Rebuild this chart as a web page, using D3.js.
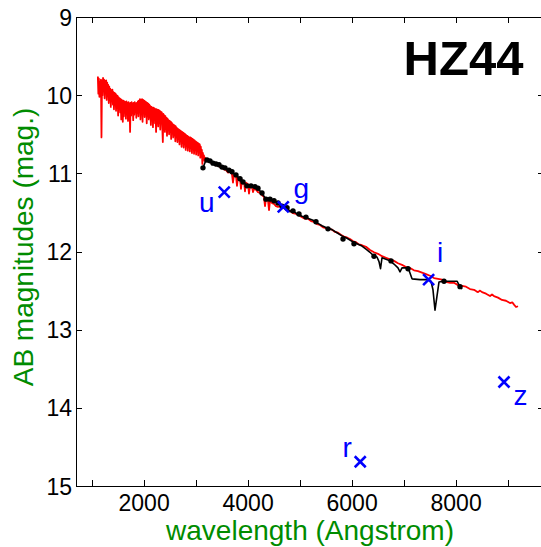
<!DOCTYPE html>
<html><head><meta charset="utf-8">
<script src="https://cdn.jsdelivr.net/npm/d3@7"></script>
<style>
body{margin:0;background:#fff}
svg{display:block}
text{font-family:"Liberation Sans",Arial,Helvetica,sans-serif}
</style>
</head><body>
<svg id="chart" width="541" height="547"></svg>
<script>
// ---- data ----
const title = "HZ44";
const xLabel = "wavelength (Angstrom)";
const yLabel = "AB magnitudes (mag.)";
const xTicks = [1000,2000,3000,4000,5000,6000,7000,8000,9000];
const xTickLabels = [2000,4000,6000,8000];
const yTicks = [9,10,11,12,13,14,15];

// model / reference spectrum (red): [wavelength, AB mag]
const redSpectrum = [
[1120,9.76],[1130,9.98],[1140,9.79],[1150,10.02],[1160,9.84],[1170,9.95],[1180,9.80],[1190,10.54],[1200,9.82],[1210,10.00],
[1220,9.78],[1230,9.93],[1240,9.80],[1250,10.04],[1260,9.82],[1270,9.96],[1280,9.81],[1290,10.06],[1300,9.84],[1310,9.98],
[1320,9.87],[1330,10.10],[1340,9.89],[1350,10.04],[1360,9.92],[1370,10.15],[1380,9.94],[1390,10.08],[1400,9.93],[1410,10.12],
[1420,9.96],[1430,10.18],[1440,9.97],[1450,10.09],[1460,9.98],[1470,10.20],[1480,10.00],[1490,10.12],[1500,10.01],[1510,10.26],
[1520,10.03],[1530,10.15],[1540,10.04],[1550,10.22],[1560,10.05],[1570,10.31],[1580,10.06],[1590,10.18],[1600,10.34],[1610,10.07],
[1620,10.27],[1630,10.08],[1640,10.22],[1650,10.09],[1660,10.30],[1670,10.08],[1680,10.20],[1690,10.10],[1700,10.33],[1710,10.09],
[1720,10.24],[1730,10.11],[1740,10.47],[1750,10.10],[1760,10.26],[1770,10.09],[1780,10.21],[1790,10.11],[1800,10.32],[1810,10.10],
[1820,10.25],[1830,10.09],[1840,10.19],[1850,10.11],[1860,10.29],[1870,10.10],[1880,10.23],[1890,10.08],[1900,10.27],[1910,10.07],
[1920,10.20],[1930,10.05],[1940,10.31],[1950,10.06],[1960,10.22],[1970,10.05],[1980,10.34],[1990,10.06],[2000,10.21],[2010,10.07],
[2020,10.28],[2030,10.08],[2040,10.24],[2050,10.09],[2060,10.36],[2070,10.10],[2080,10.25],[2090,10.11],[2100,10.31],[2110,10.12],
[2120,10.27],[2130,10.14],[2140,10.38],[2150,10.15],[2160,10.30],[2170,10.16],[2180,10.41],[2190,10.16],[2200,10.29],[2210,10.17],
[2220,10.36],[2230,10.18],[2240,10.47],[2250,10.18],[2260,10.33],[2270,10.19],[2280,10.40],[2290,10.19],[2300,10.35],[2310,10.20],
[2320,10.44],[2330,10.21],[2340,10.34],[2350,10.22],[2360,10.42],[2370,10.60],[2380,10.24],[2390,10.40],[2400,10.26],[2410,10.47],
[2420,10.27],[2430,10.41],[2440,10.29],[2450,10.52],[2460,10.30],[2470,10.44],[2480,10.32],[2490,10.50],[2500,10.33],[2510,10.46],
[2520,10.34],[2530,10.56],[2540,10.35],[2550,10.49],[2560,10.37],[2570,10.54],[2580,10.38],[2590,10.50],[2600,10.39],[2610,10.59],
[2620,10.40],[2630,10.53],[2640,10.42],[2650,10.60],[2660,10.43],[2670,10.55],[2680,10.44],[2690,10.63],[2700,10.45],[2710,10.57],
[2720,10.46],[2730,10.66],[2740,10.47],[2750,10.58],[2760,10.48],[2770,10.67],[2780,10.49],[2790,10.61],[2800,10.50],[2810,10.70],
[2820,10.51],[2830,10.62],[2840,10.52],[2850,10.71],[2860,10.53],[2870,10.64],[2880,10.54],[2890,10.72],[2900,10.54],[2910,10.65],
[2920,10.55],[2930,10.74],[2940,10.56],[2950,10.66],[2960,10.57],[2970,10.75],[2980,10.58],[2990,10.68],[3000,10.59],[3010,10.76],
[3020,10.60],[3030,10.70],[3040,10.61],[3050,10.77],[3060,10.62],[3070,10.71],[3080,10.63],[3090,10.80],[3100,10.66],[3110,10.76],
[3120,10.70],[3130,10.88],[3140,10.74],[3150,10.82],[3160,10.77],[3170,10.84],[3180,10.80],[3190,10.83],[3200,10.81],
[3240,10.85],[3277,10.84],[3315,10.88],[3354,10.87],[3390,10.90],[3431,10.89],[3470,10.92],[3508,10.93],[3545,10.95],[3585,10.96],
[3625,10.99],[3662,10.98],[3700,11.01],[3719,11.12],[3738,11.02],[3777,11.03],[3796,11.16],[3815,11.05],[3854,11.07],[3873,11.20],
[3892,11.09],[3931,11.10],[3950,11.23],[3969,11.12],[4008,11.14],[4027,11.26],[4046,11.16],[4085,11.17],[4104,11.24],[4123,11.20],
[4162,11.21],[4200,11.24],[4239,11.25],[4277,11.28],[4315,11.30],[4335,11.42],[4354,11.32],[4392,11.34],[4412,11.47],[4431,11.35],
[4469,11.38],[4508,11.39],[4546,11.42],[4585,11.43],[4623,11.42],[4660,11.45],[4700,11.44],[4740,11.47],[4777,11.47],
[4815,11.48],[4873,11.51],[4931,11.52],[4990,11.54],[5046,11.56],[5100,11.58],[5162,11.58],[5220,11.61],[5277,11.62],[5335,11.65],
[5392,11.66],[5450,11.69],[5508,11.70],[5565,11.71],[5623,11.72],[5680,11.75],[5738,11.76],[5800,11.79],[5854,11.81],[5910,11.82],
[5969,11.84],[6030,11.87],[6085,11.88],[6140,11.91],[6200,11.92],[6277,11.94],[6354,11.98],[6431,12.01],[6508,12.03],[6585,12.06],
[6662,12.08],[6738,12.10],[6815,12.12],[6892,12.15],[6969,12.17],[7046,12.20],[7123,12.21],[7200,12.24],[7277,12.25],[7354,12.27],
[7431,12.29],[7508,12.31],[7585,12.34],[7662,12.35],[7738,12.36],[7815,12.39],[7892,12.40],[7969,12.40],[8046,12.43],[8123,12.44],
[8200,12.45],[8277,12.48],[8354,12.49],[8400,12.51],[8431,12.52],[8470,12.50],[8508,12.52],[8585,12.54],[8662,12.57],[8700,12.55],
[8738,12.57],[8815,12.59],[8892,12.62],[8969,12.63],[9046,12.66],[9090,12.65],[9123,12.68],[9162,12.71],[9200,12.70]
];

// observed spectrum (black): [wavelength, AB mag]
const blackSpectrum = [
[3142,10.93],[3200,10.83],[3277,10.84],[3335,10.87],[3431,10.89],[3527,10.92],[3623,10.96],[3719,11.00],[3796,11.03],[3854,11.09],
[3931,11.12],[3988,11.16],[4085,11.16],[4200,11.19],[4277,11.26],[4373,11.34],[4431,11.33],[4488,11.34],[4565,11.38],[4642,11.41],
[4719,11.43],[4777,11.46],[4815,11.49],[4854,11.47],[4950,11.52],[5046,11.55],[5142,11.57],[5258,11.60],[5354,11.64],[5431,11.67],
[5527,11.70],[5623,11.72],[5719,11.76],[5815,11.80],[5912,11.83],[6008,11.87],[6104,11.90],[6200,11.93],[6277,11.97],[6354,12.01],
[6431,12.06],[6488,12.07],[6527,12.13],[6556,12.22],[6585,12.08],[6662,12.10],[6738,12.12],[6815,12.16],[6892,12.21],[6931,12.26],
[6969,12.21],[7046,12.21],[7104,12.24],[7162,12.35],[7315,12.36],[7450,12.36],[7527,12.38],[7565,12.49],[7604,12.75],[7642,12.57],
[7681,12.39],[7758,12.38],[7892,12.38],[8027,12.38],[8085,12.45],[8123,12.48]
];

// sampled points of the observed spectrum (black dots)
const blackDots = [
[3142,10.93],[3219,10.83],[3277,10.84],[3335,10.87],[3392,10.88],[3450,10.89],[3508,10.92],[3565,10.93],[3642,10.96],[3700,10.98],
[3777,11.02],[3854,11.07],[3912,11.11],[3988,11.16],[4065,11.16],[4142,11.17],[4200,11.19],[4277,11.25],[4354,11.33],[4431,11.33],
[4508,11.35],[4585,11.38],[4662,11.42],[4758,11.44],[4873,11.48],[4988,11.52],[5123,11.56],[5315,11.62],[5546,11.71],[5835,11.84],
[6046,11.90],[6431,12.06],[6758,12.12],[7085,12.22],[7777,12.38],[8085,12.45]
];

// photometric bands
const bandNames = ["u","g","r","i","z"];
const bandWl = [3551,4686,6166,7481,8931];
const bandMag = [11.24,11.43,14.69,12.36,13.67];

// ---- presentation ----
const labelOffset = {u:[-17.5,20], g:[18,-9], r:[-13,-5], i:[11.5,-17.5], z:[16.5,23]};
const svg = d3.select("#chart");
const x = d3.scaleLinear().domain([700,9700]).range([76,544]);
const y = d3.scaleLinear().domain([9,15]).range([17,486]);
const tickFont = 23, labelFont = 28;
const green = "rgb(0,140,0)";

// axes (ticks pointing inward)
const gB = svg.append("g").attr("transform",`translate(0,${y(15)})`)
  .call(d3.axisBottom(x).tickValues(xTicks).tickSizeInner(-6).tickSizeOuter(0)
    .tickFormat(d => xTickLabels.includes(d) ? String(d) : ""));
gB.selectAll("text").attr("y",25).attr("dy",null).attr("font-size",tickFont);
const gT = svg.append("g").attr("transform",`translate(0,${y(9)})`)
  .call(d3.axisTop(x).tickValues(xTicks).tickSizeInner(-6).tickSizeOuter(0).tickFormat(""));
const gL = svg.append("g").attr("transform",`translate(${x(700)},0)`)
  .call(d3.axisLeft(y).tickValues(yTicks).tickSizeInner(-6).tickSizeOuter(0).tickPadding(4).tickFormat(d3.format("d")));
gL.selectAll("text").attr("font-size",tickFont).attr("dy","0.35em");
const gR = svg.append("g").attr("transform",`translate(${x(9700)},0)`)
  .call(d3.axisRight(y).tickValues(yTicks).tickSizeInner(-6).tickSizeOuter(0).tickFormat(""));
svg.selectAll(".domain, .tick line").attr("stroke","#000").attr("stroke-width",1).attr("shape-rendering","crispEdges");
svg.selectAll(".tick text").attr("fill","#000").attr("font-family",null);

// spectra
const line = d3.line().x(d => x(d[0])).y(d => y(d[1]));
svg.append("path").datum(redSpectrum).attr("d",line)
  .attr("fill","none").attr("stroke","#ff0000").attr("stroke-width",1.8).attr("stroke-linejoin","round");
svg.append("path").datum(blackSpectrum).attr("d",line)
  .attr("fill","none").attr("stroke","#000").attr("stroke-width",1.6).attr("stroke-linejoin","round");
svg.selectAll("circle.dot").data(blackDots).enter().append("circle").attr("class","dot")
  .attr("cx",d=>x(d[0])).attr("cy",d=>y(d[1])).attr("r",2.7).attr("fill","#000");

// band markers
const bands = bandNames.map((n,i)=>({name:n, wl:bandWl[i], mag:bandMag[i]}));
const mk = svg.selectAll("g.band").data(bands).enter().append("g").attr("class","band")
  .attr("transform",d=>`translate(${x(d.wl)},${y(d.mag)})`);
const s = 5.5;
mk.append("path").attr("d",`M${-s},${-s}L${s},${s}M${-s},${s}L${s},${-s}`)
  .attr("stroke","#0000ff").attr("stroke-width",2.6).attr("fill","none");
mk.append("text").text(d=>d.name)
  .attr("x",d=>labelOffset[d.name][0]).attr("y",d=>labelOffset[d.name][1])
  .attr("text-anchor","middle").attr("font-size",labelFont).attr("fill","#0000ff");

// title
svg.append("text").text(title).attr("x",463.5).attr("y",75).attr("text-anchor","middle")
  .attr("font-size",49).attr("font-weight","bold").attr("fill","#000");

// axis labels
svg.append("text").text(xLabel).attr("x",(x.range()[0]+x.range()[1])/2).attr("y",540)
  .attr("text-anchor","middle").attr("font-size",labelFont).attr("fill",green);
svg.append("text").text(yLabel).attr("transform",`translate(33,247) rotate(-90)`)
  .attr("text-anchor","middle").attr("font-size",labelFont).attr("fill",green);
</script>
</body></html>
